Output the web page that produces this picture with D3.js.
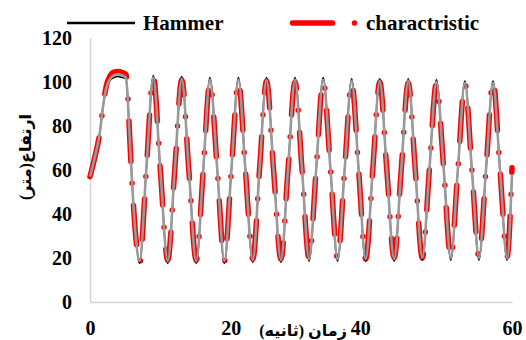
<!DOCTYPE html>
<html>
<head>
<meta charset="utf-8">
<script src="https://cdn.jsdelivr.net/npm/d3@7"></script>
<style>
  body { margin: 0; background: #fff; }
  svg text { font-family: "Liberation Serif", "Times New Roman", Times, "DejaVu Serif", serif; font-weight: bold; }
  svg text.fa { font-family: "Liberation Serif", "DejaVu Sans", serif; }
</style>
</head>
<body>
<div id="chart"></div>
<script>
// time (s) of each reading
const times = [0, 0.7, 1.4, 1.9, 2.3, 2.8, 3.4, 4.0, 4.6, 5.1, 5.3, 5.5, 5.75, 6.1, 6.5,
  7.05, 8.0, 9.0, 10.0, 11.05, 12.05, 13.05, 14.05, 15.1, 16.1, 17.05, 18.1, 19.1, 20.1,
  21.1, 22.1, 23.15, 24.1, 25.1, 26.1, 27.15, 28.15, 29.15, 30.15, 31.15, 32.15, 33.15, 34.2,
  35.2, 36.2, 37.2, 38.2, 39.2, 40.2, 41.2, 42.2, 43.25, 44.25, 45.25, 46.25, 47.25, 48.25,
  49.25, 50.3, 51.3, 52.3, 53.3, 54.3, 55.3, 56.3, 57.3, 58.3, 59.3, 60.0];

// head (m), unnamed grey series
const greyHead = [57, 66, 77, 90, 97, 101, 103, 103.5, 103, 102, 96, 84, 68, 48, 30,
  18.5, 60, 102, 60, 18.5, 60, 101.5, 60, 18.5, 60, 101, 60, 18.5, 60,
  101, 60, 19, 60, 101, 60, 19, 60, 101, 60, 19.5, 60, 101, 60,
  19.5, 60, 100.5, 60, 19.5, 60, 100.5, 60, 19.5, 60, 100.5, 60, 20, 60,
  100, 60, 20, 60, 99.5, 60, 20, 60, 99.5, 60, 20, 58];

// Hammer
const hammerHead = [57, 66, 77, 90, 97, 100.5, 102, 102.5, 102, 101.5, 96, 84, 68, 48, 30,
  17.5, 60, 103, 60, 17.5, 60, 102.5, 60, 17.5, 60, 102, 60, 17.5, 60,
  102, 60, 18, 60, 102, 60, 18, 60, 102, 60, 18.5, 60, 102, 60,
  18.5, 60, 101.5, 60, 18.5, 60, 101.5, 60, 18.5, 60, 101.5, 60, 19, 60,
  101, 60, 19, 60, 100.5, 60, 19, 60, 100.5, 60, 19, 58];

// charactristic
const charHead = [57, 66, 77, 90, 98, 102.5, 104.5, 104.8, 104.3, 103.5, 98, 85, 68, 48, 30,
  17.5, 60, 102.5, 60, 19, 60, 101, 60, 19, 60, 100, 60, 18.5, 60,
  100.5, 60, 19.5, 60, 100.5, 60, 19.5, 60, 100, 60, 19.5, 60, 100.5, 60,
  19.5, 60, 100, 60, 19.5, 60, 100, 60, 20, 60, 99.5, 60, 20, 60,
  99.5, 60, 20, 60, 99.5, 60, 20.5, 60, 100.5, 60, 20.5, 61];

const xTicks = [0, 20, 40, 60];
const yTicks = [0, 20, 40, 60, 80, 100, 120];

const width = 526;
const height = 340;

const svg = d3.select('#chart')
  .append('svg')
  .attr('width', width)
  .attr('height', height);

const xScale = d3.scaleLinear().domain([0, 60]).range([90, 512]);
const yScale = d3.scaleLinear().domain([0, 120]).range([302, 38]);

/////////////// AXES ///////////////
const yAxis = d3.axisLeft(yScale).tickValues(yTicks).tickSize(0).tickPadding(18);
const gy = svg.append('g').attr('transform', `translate(${xScale(0)},0)`).call(yAxis);
gy.select('.domain').attr('stroke', '#d4d4d4').attr('stroke-width', 1.5);
gy.selectAll('text').attr('font-size', 20).attr('fill', '#000');

const xAxis = d3.axisBottom(xScale).tickValues(xTicks).tickSize(0).tickPadding(19);
const gx = svg.append('g').attr('transform', `translate(0,${yScale(0)})`).call(xAxis);
gx.select('.domain').attr('stroke', '#d4d4d4').attr('stroke-width', 1.5);
gx.selectAll('text').attr('font-size', 20).attr('fill', '#000')
  .attr('dx', d => d === 40 ? -11 : 0);   // the 40 sits left in the original

/////////////// LINES ///////////////
const line = series => d3.line()
  .x((d, i) => xScale(times[i]))
  .y(d => yScale(d))
  .curve(d3.curveMonotoneX)(series);

svg.append('path')
  .attr('d', line(charHead))
  .attr('fill', 'none')
  .attr('stroke', '#ff0000')
  .attr('stroke-width', 5.5)
  .attr('stroke-linecap', 'round')
  .attr('stroke-dasharray', '40 22 0 22');

svg.append('path')
  .attr('d', line(hammerHead))
  .attr('fill', 'none')
  .attr('stroke', '#000')
  .attr('stroke-width', 1.5);

svg.append('path')
  .attr('d', line(greyHead))
  .attr('fill', 'none')
  .attr('stroke', '#9a9a9a')
  .attr('stroke-width', 2.6);

/////////////// LEGEND ///////////////
svg.append('line')
  .attr('x1', 67).attr('x2', 135).attr('y1', 23).attr('y2', 23)
  .attr('stroke', '#000').attr('stroke-width', 2.5);
svg.append('text').attr('x', 143).attr('y', 30).attr('font-size', 21).text('Hammer');

svg.append('line')
  .attr('x1', 292.5).attr('x2', 360).attr('y1', 23).attr('y2', 23)
  .attr('stroke', '#ff0000').attr('stroke-width', 5.5)
  .attr('stroke-linecap', 'round')
  .attr('stroke-dasharray', '40 22 0 22');
svg.append('text').attr('x', 366).attr('y', 30).attr('font-size', 21).text('charactristic');

/////////////// TITLES ///////////////
svg.append('text')
  .attr('class', 'fa')
  .attr('x', 303).attr('y', 336)
  .attr('text-anchor', 'middle')
  .attr('direction', 'rtl')
  .attr('font-size', 16)
  .text('زمان (ثانیه)');

svg.append('text')
  .attr('class', 'fa')
  .attr('transform', 'translate(31,157) rotate(-90)')
  .attr('text-anchor', 'middle')
  .attr('direction', 'rtl')
  .attr('font-size', 16)
  .text('ارتفاع(متر)');
</script>
</body>
</html>
